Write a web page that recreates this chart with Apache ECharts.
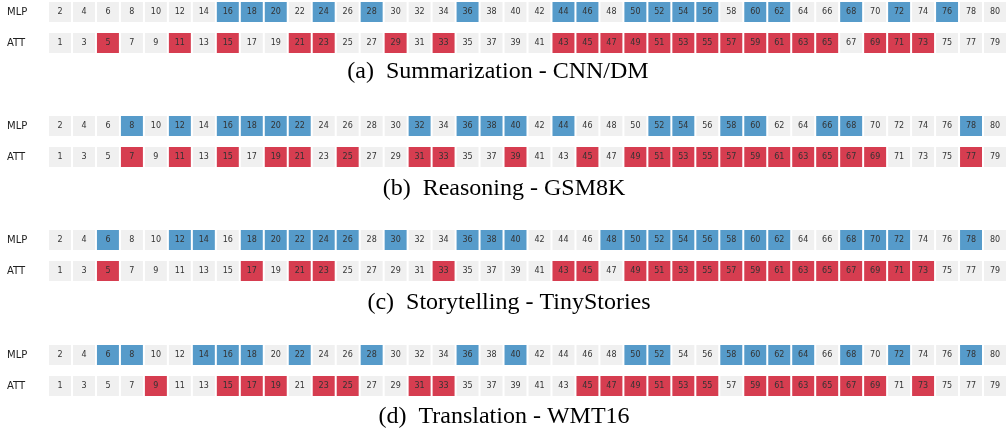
<!DOCTYPE html>
<html>
<head>
<meta charset="utf-8">
<script src="https://cdn.jsdelivr.net/npm/echarts@6/dist/echarts.min.js"></script>
<style>
  html, body { margin: 0; padding: 0; background: #fff; }
  #main { width: 1008px; height: 428px; }
</style>
</head>
<body>
<div id="main"></div>
<script>
// layer labels of each row
var mlpLabels = [2, 4, 6, 8, 10, 12, 14, 16, 18, 20, 22, 24, 26, 28, 30, 32, 34, 36, 38, 40,
                 42, 44, 46, 48, 50, 52, 54, 56, 58, 60, 62, 64, 66, 68, 70, 72, 74, 76, 78, 80];
var attLabels = [1, 3, 5, 7, 9, 11, 13, 15, 17, 19, 21, 23, 25, 27, 29, 31, 33, 35, 37, 39,
                 41, 43, 45, 47, 49, 51, 53, 55, 57, 59, 61, 63, 65, 67, 69, 71, 73, 75, 77, 79];
var rowNames = ['MLP', 'ATT'];

var captions = ['(a)\u2002Summarization - CNN/DM', '(b)\u2002Reasoning - GSM8K',
                '(c)\u2002Storytelling - TinyStories', '(d)\u2002Translation - WMT16'];

// highlighted layers per task
var mlpActive = [
  [16, 18, 20, 24, 28, 36, 44, 46, 50, 52, 54, 56, 60, 62, 68, 72, 76],
  [8, 12, 16, 18, 20, 22, 32, 36, 38, 40, 44, 52, 54, 58, 60, 66, 68, 78],
  [6, 12, 14, 18, 20, 22, 24, 26, 30, 36, 38, 40, 48, 50, 52, 54, 56, 58, 60, 62, 68, 70, 72, 78],
  [6, 8, 14, 16, 18, 22, 28, 36, 40, 50, 52, 58, 60, 62, 64, 68, 72, 78]
];
var attActive = [
  [5, 11, 15, 21, 23, 29, 33, 43, 45, 47, 49, 51, 53, 55, 57, 59, 61, 63, 65, 69, 71, 73],
  [7, 11, 15, 19, 21, 25, 31, 33, 39, 45, 49, 51, 53, 55, 57, 59, 61, 63, 65, 67, 69, 77],
  [5, 17, 21, 23, 33, 43, 45, 49, 51, 53, 55, 57, 59, 61, 63, 65, 67, 69, 71, 73],
  [9, 15, 17, 19, 23, 25, 31, 33, 45, 47, 49, 51, 53, 55, 59, 61, 63, 65, 67, 69, 73]
];

var BLUE = '#569bca';
var RED = '#d63d50';
var GRAY = '#f0f0f0';

var panelTop = [12, 126, 240, 355];
var capY = [72, 189, 303, 417];
var capX = [498, 504, 509, 504];

var colIdx = mlpLabels.map(function (v, i) { return i; });

function renderItem(params, api) {
  var c = api.coord([api.value(0), api.value(1)]);
  var w = api.size([1, 0])[0] - 2;
  var h = 20;
  var fill = api.value(3) ? (api.value(1) === 0 ? BLUE : RED) : GRAY;
  return {
    type: 'rect',
    shape: { x: c[0] - w / 2, y: c[1] - h / 2, width: w, height: h },
    style: { fill: fill },
    textContent: {
      style: { text: String(api.value(2)), fill: '#333', font: '8px "DejaVu Sans"' }
    },
    textConfig: { position: 'inside' }
  };
}

var grids = [], xAxes = [], yAxes = [], series = [], graphics = [];
for (var p = 0; p < 4; p++) {
  grids.push({ left: 48, right: 1, top: panelTop[p], height: 31 });
  xAxes.push({ type: 'category', gridIndex: p, data: colIdx, boundaryGap: true, show: false });
  yAxes.push({
    type: 'category', gridIndex: p, data: rowNames, inverse: true, boundaryGap: false,
    axisLine: { show: false }, axisTick: { show: false }, splitLine: { show: false },
    axisLabel: { margin: 41, align: 'left', fontSize: 10, fontFamily: 'DejaVu Sans', color: '#222' }
  });
  var data = [];
  mlpLabels.forEach(function (v, i) {
    data.push([i, 0, v, mlpActive[p].indexOf(v) >= 0 ? 1 : 0]);
  });
  attLabels.forEach(function (v, i) {
    data.push([i, 1, v, attActive[p].indexOf(v) >= 0 ? 1 : 0]);
  });
  series.push({
    type: 'custom', xAxisIndex: p, yAxisIndex: p, renderItem: renderItem,
    data: data, silent: true, animation: false
  });
  graphics.push({
    type: 'text', x: capX[p], y: capY[p],
    style: {
      text: captions[p], fill: '#000', font: '24px "Liberation Serif"',
      textAlign: 'center', textVerticalAlign: 'middle'
    }
  });
}

var myChart = echarts.init(document.getElementById('main'));
myChart.setOption({
  animation: false,
  grid: grids,
  xAxis: xAxes,
  yAxis: yAxes,
  series: series,
  graphic: graphics
});
</script>
</body>
</html>
